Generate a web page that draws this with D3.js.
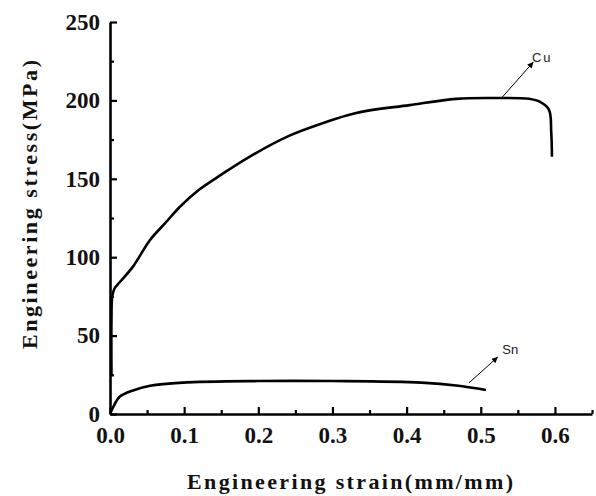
<!DOCTYPE html>
<html>
<head>
<meta charset="utf-8">
<script src="https://cdn.jsdelivr.net/npm/d3@7"></script>
<style>
  body { margin: 0; background: #fff; }
  svg { display: block; }
</style>
</head>
<body>
<svg class="chart-svg"></svg>
<script>
// curves
var cu_strain = [0.002, 0.002, 0.003, 0.006, 0.013, 0.031, 0.054, 0.075, 0.094, 0.12, 0.148, 0.188, 0.242, 0.287, 0.332, 0.404, 0.467, 0.52, 0.565, 0.58, 0.592, 0.595, 0.596];
var cu_stress = [24, 60, 75, 80, 84, 94, 111, 122, 132, 143, 152, 164, 177.5, 185.5, 192, 197, 201, 201.5, 201, 199, 194, 180, 164];
var sn_strain = [0, 0.006, 0.013, 0.031, 0.054, 0.098, 0.2, 0.3, 0.42, 0.47, 0.507];
var sn_stress = [0, 6, 11, 15, 18, 20, 21, 21, 20, 18, 15.3];
var x_ticks = [0, 0.1, 0.2, 0.3, 0.4, 0.5, 0.6];
var x_minor = [0.05, 0.15, 0.25, 0.35, 0.45, 0.55, 0.65];
var y_ticks = [0, 50, 100, 150, 200, 250];
var y_minor = [25, 75, 125, 175, 225];
// labels: name, arrow start, arrow tip, text anchor (data units)
var label_names = ['Cu', 'Sn'];
var label_from = [[0.527, 201], [0.484, 19.8]];
var label_to = [[0.571, 224.5], [0.523, 36.4]];
var label_at = [[0.569, 224.5], [0.529, 38.3]];

var width = 596, height = 496;
var svg = d3.select('.chart-svg').attr('width', width).attr('height', height);

var x = d3.scaleLinear().domain([0, 0.65]).range([110, 592]);
var y = d3.scaleLinear().domain([0, 250]).range([414, 22]);

svg.append('defs').append('marker')
	.attr('id', 'arrow')
	.attr('viewBox', '0 0 10 10')
	.attr('refX', 10).attr('refY', 5)
	.attr('markerWidth', 8).attr('markerHeight', 6)
	.attr('markerUnits', 'userSpaceOnUse')
	.attr('orient', 'auto')
	.append('path').attr('d', 'M0,0L10,5L0,10z').attr('fill', '#000');

var tick_font = 'Liberation Serif, Times New Roman, serif';

// minor ticks
svg.append('g').attr('transform', 'translate(0,414)')
	.call(d3.axisBottom(x).tickValues(x_minor).tickSize(-4).tickFormat('').tickSizeOuter(0))
	.call(function(g) { g.select('.domain').remove(); });
svg.append('g').attr('transform', 'translate(110,0)')
	.call(d3.axisLeft(y).tickValues(y_minor).tickSize(-4).tickFormat('').tickSizeOuter(0))
	.call(function(g) { g.select('.domain').remove(); });

var x_axis = svg.append('g').attr('transform', 'translate(0,414)')
	.call(d3.axisBottom(x).tickValues(x_ticks).tickSize(-7).tickSizeOuter(0)
		.tickPadding(13).tickFormat(d3.format('.1f')));
var y_axis = svg.append('g').attr('transform', 'translate(110,0)')
	.call(d3.axisLeft(y).tickValues(y_ticks).tickSize(-7).tickSizeOuter(0)
		.tickPadding(10));

svg.selectAll('.tick line').attr('stroke', '#000').attr('stroke-width', 2.2);
[x_axis, y_axis].forEach(function(a) {
	a.select('.domain').attr('stroke', '#000').attr('stroke-width', 2.6);
	a.selectAll('text')
		.attr('font-family', tick_font)
		.attr('font-weight', 'bold')
		.attr('font-size', 23)
		.attr('fill', '#111');
});

var line = d3.line()
	.x(function(d) { return x(d[0]); })
	.y(function(d) { return y(d[1]); })
	.curve(d3.curveCatmullRom.alpha(0.5));
var cu_pts = d3.zip(cu_strain, cu_stress);
var sn_pts = d3.zip(sn_strain, sn_stress);
[cu_pts, sn_pts].forEach(function(pts) {
	svg.append('path').datum(pts)
		.attr('d', line)
		.attr('fill', 'none')
		.attr('stroke', '#000')
		.attr('stroke-width', 2.6)
		.attr('stroke-linejoin', 'round');
});

for (var i in label_names) {
	svg.append('line')
		.attr('x1', x(label_from[i][0])).attr('y1', y(label_from[i][1]))
		.attr('x2', x(label_to[i][0])).attr('y2', y(label_to[i][1]))
		.attr('stroke', '#000').attr('stroke-width', 1)
		.attr('marker-end', 'url(#arrow)');
	svg.append('text')
		.attr('x', x(label_at[i][0])).attr('y', y(label_at[i][1]))
		.attr('font-family', 'Liberation Sans, Arial, sans-serif')
		.attr('font-size', 13)
		.attr('letter-spacing', label_names[i] == 'Cu' ? 2 : 0)
		.attr('fill', '#222')
		.text(label_names[i]);
}

// axis titles
svg.append('text')
	.attr('x', 187).attr('y', 489)
	.attr('font-family', tick_font).attr('font-weight', 'bold').attr('font-size', 22)
	.attr('textLength', 326).attr('lengthAdjust', 'spacing')
	.attr('fill', '#111')
	.text('Engineering strain(mm/mm)');
svg.append('text')
	.attr('transform', 'translate(37,349) rotate(-90)')
	.attr('font-family', tick_font).attr('font-weight', 'bold').attr('font-size', 22)
	.attr('textLength', 289).attr('lengthAdjust', 'spacing')
	.attr('fill', '#111')
	.text('Engineering stress(MPa)');
</script>
</body>
</html>
